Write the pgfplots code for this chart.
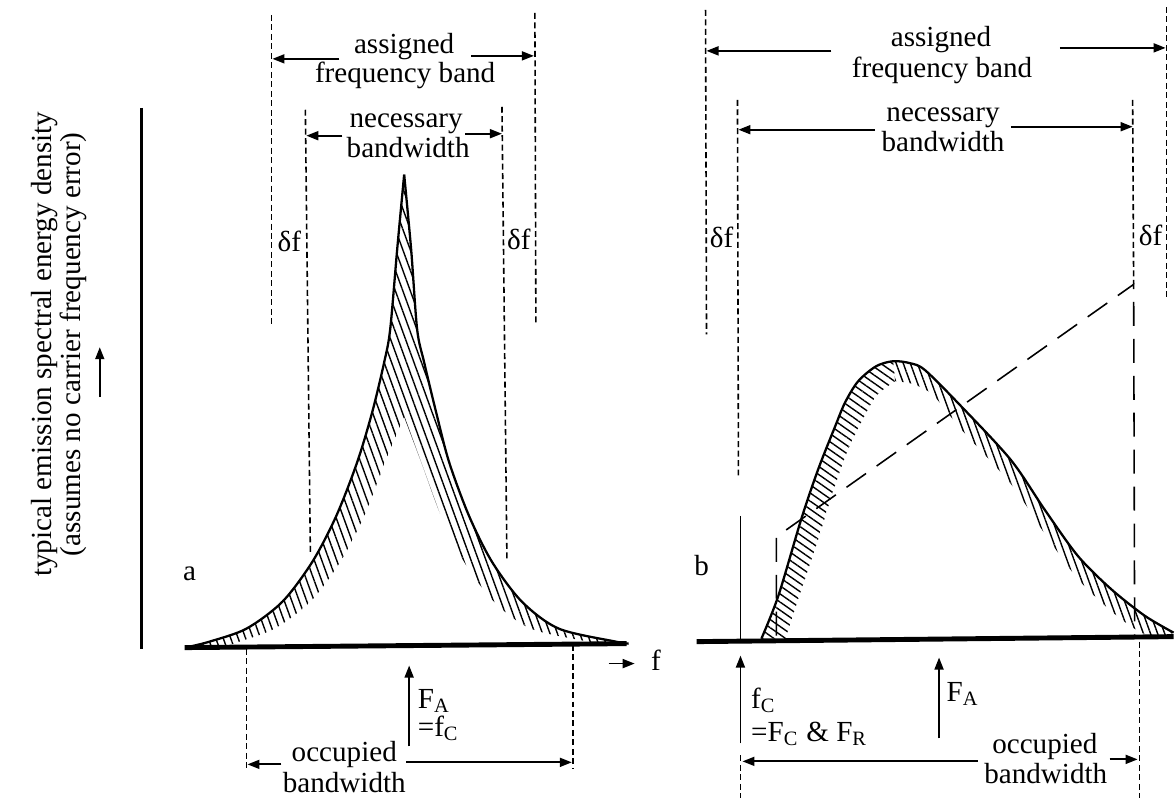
\documentclass[border=0pt]{standalone}
\usepackage{fontspec}
\setmainfont{Liberation Serif}
\usepackage{pgfplots}
\usepgfplotslibrary{fillbetween}
\pgfplotsset{compat=1.18}
\usetikzlibrary{arrows.meta,patterns.meta}
\tikzset{
  sd/.style={line width=0.45pt, dash pattern=on 0.6mm off 0.35mm},
  ld/.style={line width=0.45pt, dash pattern=on 2.4mm off 1.3mm},
  ar/.style={line width=0.5pt, -{Triangle[length=1.2mm,width=0.9mm]}},
  base/.style={line width=1.4pt},
  hatchA/.style={pattern={Lines[angle=-70,distance=2pt,line width=0.4pt]}},
  hatchBL/.style={pattern={Lines[angle=-35,distance=1.9pt,line width=0.4pt]}},
  hatchBR/.style={pattern={Lines[angle=-70,distance=1.9pt,line width=0.4pt]}},
}
\begin{document}
\begin{tikzpicture}[font={\fontsize{8.3}{9.5}\selectfont}]
\begin{axis}[scale only axis, width=11.76cm, height=8cm,
  xmin=0, xmax=1176, ymin=0, ymax=800, y dir=reverse,
  hide axis, clip=false]
\addplot[draw=none] coordinates {(0,0) (1176,800)};

% y axis
\addplot[line width=0.9pt] coordinates {(142,108) (142,650)};
\addplot[ar] coordinates {(100,398) (100,348)};
\node[rotate=90] at (axis cs:45,345) {typical emission spectral energy density};
\node[rotate=90] at (axis cs:74,345) {(assumes no carrier frequency error)};

% ---------- panel a ----------
\addplot[name path=aL, smooth, line width=0.65pt] coordinates {
 (190,648) (210,643) (247,630) (283,603) (313,563) (337,517) (358,463)
 (373,413) (385,363) (391,330) (398,250) (405,175)};
\addplot[name path=aR, smooth, line width=0.65pt] coordinates {
 (405,175) (412,250) (418,330) (425,363) (437,413) (450,463) (470,517)
 (493,563) (523,603) (560,630) (617,643) (630,645)};
\addplot[name path=aLi, smooth, draw=none] coordinates {
 (225,648) (240,643) (275,630) (311,603) (341,563) (365,517) (386,463) (405,418)};
\addplot[name path=aRi, smooth, draw=none] coordinates {
 (405,418) (422,463) (442,517) (465,563) (495,603) (532,630) (589,643) (602,646)};
\addplot[hatchA, draw=none] fill between[of=aL and aLi];
\addplot[hatchA, draw=none] fill between[of=aR and aRi];
\addplot[base] coordinates {(185,649) (628,645)};

\addplot[sd] coordinates {(272,15) (272,325)};
\addplot[sd] coordinates {(536,13) (537,325)};
\addplot[sd] coordinates {(306,110) (311,553)};
\addplot[sd] coordinates {(503,107) (508,562)};
\addplot[ar] coordinates {(340,59) (273,59)};
\addplot[ar] coordinates {(472,56) (535,56)};
\addplot[ar] coordinates {(343,136) (307,136)};
\addplot[ar] coordinates {(466,134) (503,134)};
\node[anchor=base] at (axis cs:405,54) {assigned};
\node[anchor=base] at (axis cs:406,83) {frequency band};
\node[anchor=base] at (axis cs:407,128) {necessary};
\node[anchor=base] at (axis cs:409,158) {bandwidth};
\node[anchor=base] at (axis cs:290,252) {δf};
\node[anchor=base] at (axis cs:520,250) {δf};
\node[anchor=base] at (axis cs:190,582) {a};

\addplot[ar] coordinates {(610,665) (636,665)};
\node[anchor=base west] at (axis cs:640,672) {f};

\addplot[sd] coordinates {(247,650) (247,770)};
\addplot[sd] coordinates {(574,646) (574,770)};
\addplot[ar] coordinates {(282,766) (248,766)};
\addplot[ar] coordinates {(407,764) (573,764)};
\node[anchor=base] at (axis cs:345,763) {occupied};
\node[anchor=base] at (axis cs:345,794) {bandwidth};
\addplot[ar] coordinates {(410,748) (410,667)};
\node[anchor=base west, inner sep=0pt] at (axis cs:418,710) {F\textsubscript{A}};
\node[anchor=base west, inner sep=0pt] at (axis cs:418,738) {=f\textsubscript{C}};

% ---------- panel b ----------
\addplot[smooth, line width=0.65pt] coordinates {
 (763,640) (780,597) (803,520) (820,470) (837,427) (847,403) (860,382) (878,367)
 (895,362) (912,364) (927,371) (963,407) (1013,461) (1047,511) (1080,557)
 (1113,590) (1147,617) (1176,634)};
\addplot[name path=bOL, smooth, draw=none] coordinates {
 (763,640) (780,597) (803,520) (820,470) (837,427) (847,403) (860,382) (878,367)
 (895,362)};
\addplot[name path=bOR, smooth, draw=none] coordinates {
 (895,362) (912,364) (927,371) (963,407) (1013,461) (1047,511) (1080,557)
 (1113,590) (1147,617) (1176,634)};
\addplot[name path=bIL, smooth, draw=none] coordinates {
 (787,640) (800,600) (820,540) (834,495) (848,455) (862,425) (878,397) (897,382)};
\addplot[name path=bIR, smooth, draw=none] coordinates {
 (897,382) (915,385) (935,396) (963,430) (1013,485) (1047,535) (1080,580)
 (1113,612) (1140,632) (1160,640)};
\addplot[hatchBL, draw=none] fill between[of=bOL and bIL];
\addplot[hatchBR, draw=none] fill between[of=bOR and bIR];
\addplot[base] coordinates {(698,643) (1176,638)};

\addplot[sd] coordinates {(707,10) (708,335)};
\addplot[sd] coordinates {(1169,7) (1169,300)};
\addplot[sd] coordinates {(739,100) (740,480)};
\addplot[line width=0.5pt] coordinates {(742,517) (742,642)};
\addplot[sd] coordinates {(742,757) (742,800)};
\addplot[sd] coordinates {(1135,100) (1136,285)};
\addplot[ld] coordinates {(778,637) (778,538) (1136,285) (1137,637)};
\addplot[sd] coordinates {(1142,643) (1142,800)};

\addplot[ar] coordinates {(833,51) (708,51)};
\addplot[ar] coordinates {(1062,48) (1168,48)};
\addplot[ar] coordinates {(877,130) (740,130)};
\addplot[ar] coordinates {(1013,127) (1135,127)};
\node[anchor=base] at (axis cs:943,47) {assigned};
\node[anchor=base] at (axis cs:944,78) {frequency band};
\node[anchor=base] at (axis cs:945,122) {necessary};
\node[anchor=base] at (axis cs:945,152) {bandwidth};
\node[anchor=base] at (axis cs:723,248) {δf};
\node[anchor=base] at (axis cs:1153,246) {δf};
\node[anchor=base] at (axis cs:703,577) {b};

\addplot[ar] coordinates {(742,745) (742,657)};
\node[anchor=base west, inner sep=0pt] at (axis cs:752,710) {f\textsubscript{C}};
\node[anchor=base west, inner sep=0pt] at (axis cs:752,743) {=F\textsubscript{C} \& F\textsubscript{R}};
\addplot[ar] coordinates {(941,740) (941,659)};
\node[anchor=base west, inner sep=0pt] at (axis cs:948,703) {F\textsubscript{A}};

\addplot[ar] coordinates {(980,763) (744,763)};
\addplot[ar] coordinates {(1112,761) (1140,761)};
\node[anchor=base] at (axis cs:1047,755) {occupied};
\node[anchor=base] at (axis cs:1048,785) {bandwidth};
\end{axis}
\end{tikzpicture}
\end{document}
